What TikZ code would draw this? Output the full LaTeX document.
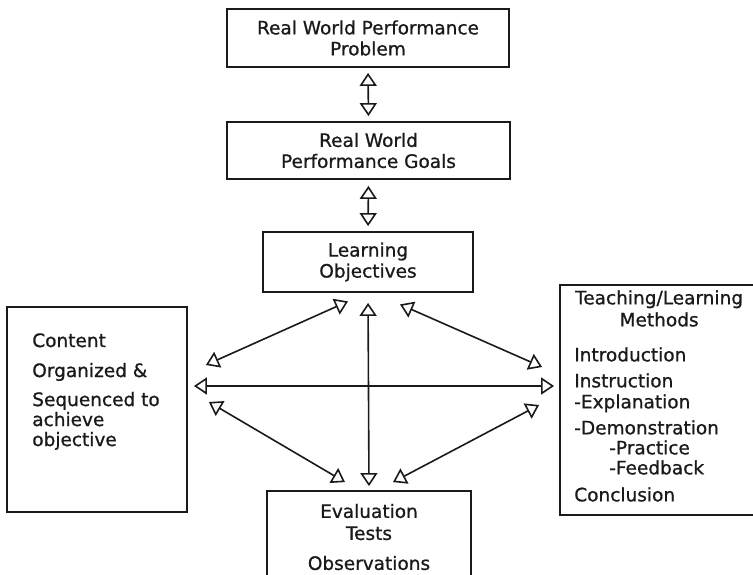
\documentclass[tikz,border=0pt]{standalone}
\usepackage{fontspec}
\setmainfont{DejaVu Sans}[RawFeature={embolden=0.9}]
\usetikzlibrary{arrows.meta,positioning}

\definecolor{ink}{HTML}{1A1A1A}

\tikzset{
  box/.style={draw=ink, line width=1.8pt, inner sep=0pt},
  txt/.style={text=ink, font=\fontsize{18.5}{21}\selectfont, inner sep=0pt},
  link/.style={draw=ink, line width=1.6pt,
    {Triangle[open,length=13pt,width=17pt]}-{Triangle[open,length=13pt,width=17pt]}}
}

\begin{document}
\begin{tikzpicture}[x=1pt,y=-1pt]

\useasboundingbox (0,0) rectangle (753,575);

% the boxes
\node[box,txt,align=center,minimum width=282pt,minimum height=58pt] (prob) at (368,38) {Real World Performance\\Problem};
\node[box,txt,align=center,minimum width=283pt,minimum height=57pt] (goals) at (368.5,150.5) {Real World\\Performance Goals};
\node[box,txt,align=center,minimum width=210pt,minimum height=60pt] (lo) at (368,262) {Learning\\Objectives};
\node[box,minimum width=180pt,minimum height=205pt] (content) at (97,409.5) {};
\node[box,minimum width=202pt,minimum height=230pt] (methods) at (661,400) {};
\node[box,txt,align=center,minimum width=204pt,minimum height=92pt] (eval) at (369,537) {Evaluation\\[1pt]Tests\\[9pt]Observations};

% texts of the side boxes
\node[txt,align=left,anchor=north west] (contenttext) at ([xshift=26pt,yshift=-27pt]content.north west) {Content\\[9pt]Organized \&\\[8pt]Sequenced to\\[-1pt]achieve\\[-1pt]objective};
\node[txt,align=center,anchor=north] (methodstitle) at ([xshift=100pt,yshift=-6pt]methods.north west) {Teaching/Learning\\[1pt]Methods};
\node[txt,align=left,anchor=north west] (methodslist) at ([xshift=15pt,yshift=-63pt]methods.north west) {Introduction\\[5pt]Instruction\\-Explanation\\[5pt]-Demonstration\\[-1pt]\hspace*{35pt}-Practice\\[-1pt]\hspace*{35pt}-Feedback\\[6pt]Conclusion};

% the arrows
\draw[link, shorten <=5pt, shorten >=5pt] (prob.south) -- (goals.north);
\draw[link, shorten <=6pt, shorten >=5pt] (goals.south) -- (lo.north);
\draw[link, shorten <=10pt, shorten >=4pt] (lo.south) -- (eval.north);
\draw[link] ([xshift=6pt,yshift=23.5pt]content.east) -- ([xshift=-5pt,yshift=14pt]methods.west);

\draw[link] ([xshift=18pt,yshift=44.5pt]content.east) -- ([xshift=-20pt,yshift=-8.5pt]lo.south);
\draw[link] ([xshift=21pt,yshift=7.5pt]content.east) -- ([xshift=-24pt,yshift=8pt]eval.north);
\draw[link] ([xshift=32pt,yshift=-11.5pt]lo.south) -- ([xshift=-17pt,yshift=33pt]methods.west);
\draw[link] ([xshift=-20pt,yshift=-5pt]methods.west) -- ([xshift=24pt,yshift=8pt]eval.north);

\end{tikzpicture}
\end{document}
